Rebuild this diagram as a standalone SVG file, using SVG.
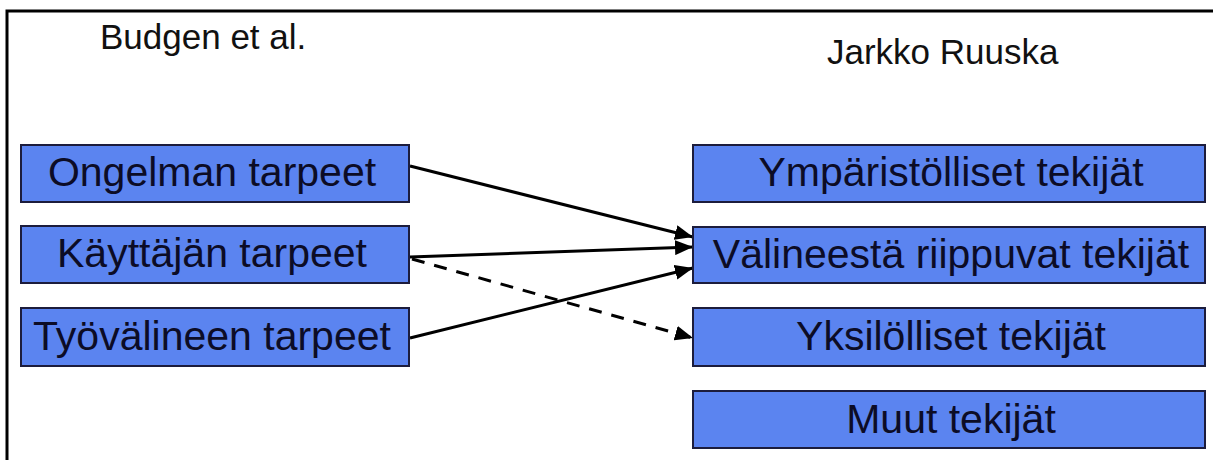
<svg xmlns="http://www.w3.org/2000/svg" width="1213" height="460" viewBox="0 0 1213 460">
  <style>
    .box { fill: #5b84f0; stroke: #1c1c3c; stroke-width: 2; }
    .lbl { font-family: "Liberation Sans", Arial, sans-serif; font-size: 41px; fill: #0c0c26; text-anchor: middle; }
    .head { font-family: "Liberation Sans", Arial, sans-serif; font-size: 35px; fill: #111; }
    .conn { stroke: #000; stroke-width: 3; fill: none; }
    .dash { stroke-dasharray: 13 10; }
  </style>
  <defs>
    <marker id="arrow" markerUnits="userSpaceOnUse" markerWidth="18" markerHeight="15" refX="18" refY="7.5" orient="auto">
      <path d="M0,0 L18,7.5 L0,15 z" fill="#000"/>
    </marker>
  </defs>
  <rect x="0" y="0" width="1213" height="460" fill="#fff"/>
  <rect x="7" y="11" width="1230" height="470" fill="none" stroke="#000" stroke-width="3"/>

  <text class="head" x="100" y="49">Budgen et al.</text>
  <text class="head" x="827" y="64">Jarkko Ruuska</text>

  <g id="connectors">
    <line class="conn" x1="410" y1="166" x2="693" y2="237" marker-end="url(#arrow)"/>
    <line class="conn" x1="410" y1="257" x2="693" y2="247" marker-end="url(#arrow)"/>
    <line class="conn" x1="410" y1="338" x2="693" y2="268" marker-end="url(#arrow)"/>
    <line class="conn dash" x1="412" y1="259" x2="693" y2="338" marker-end="url(#arrow)"/>
  </g>

  <g id="ongelman">
    <rect class="box" x="21" y="145" width="388" height="57"/>
    <text class="lbl" x="212" y="186">Ongelman tarpeet</text>
  </g>
  <g id="kayttajan">
    <rect class="box" x="21" y="226" width="388" height="57"/>
    <text class="lbl" x="212" y="267">Käyttäjän tarpeet</text>
  </g>
  <g id="tyovalineen">
    <rect class="box" x="21" y="308" width="388" height="58"/>
    <text class="lbl" x="212" y="350">Työvälineen tarpeet</text>
  </g>

  <g id="ymparistolliset">
    <rect class="box" x="693" y="145" width="512" height="57"/>
    <text class="lbl" x="951" y="186">Ympäristölliset tekijät</text>
  </g>
  <g id="valineesta">
    <rect class="box" x="693" y="227" width="512" height="56"/>
    <text class="lbl" x="951" y="268">Välineestä riippuvat tekijät</text>
  </g>
  <g id="yksilolliset">
    <rect class="box" x="693" y="308" width="512" height="58"/>
    <text class="lbl" x="951" y="350">Yksilölliset tekijät</text>
  </g>
  <g id="muut">
    <rect class="box" x="693" y="391" width="512" height="57"/>
    <text class="lbl" x="951" y="433">Muut tekijät</text>
  </g>
</svg>
